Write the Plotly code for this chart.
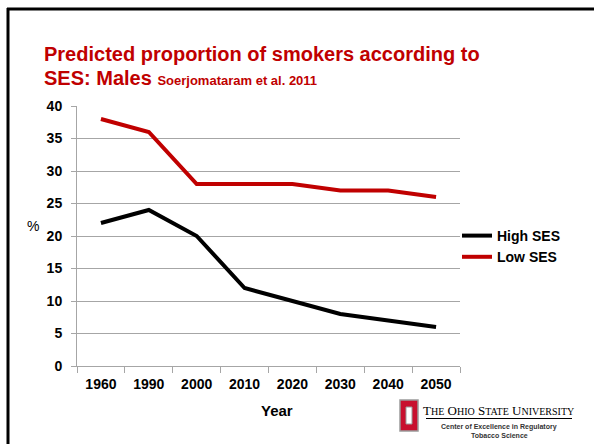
import plotly.graph_objects as go

# Smoking prevalence among males by socioeconomic status (Soerjomataram et al. 2011)
years = ["1960", "1990", "2000", "2010", "2020", "2030", "2040", "2050"]
high_ses = [22, 24, 20, 12, 10, 8, 7, 6]
low_ses = [38, 36, 28, 28, 28, 27, 27, 26]
y_ticks = [0, 5, 10, 15, 20, 25, 30, 35, 40]

W, H = 594, 444
L, R, T, B = 77, 134, 106, 78
PW, PH = W - L - R, H - T - B


def px(x):
    return (x - L) / PW


def py(y):
    return (H - B - y) / PH


RED = "#c00000"
GRID = "#a6a6a6"

fig = go.Figure()
fig.add_trace(go.Scatter(x=years, y=high_ses, name="High SES", mode="lines",
                         line=dict(color="black", width=4)))
fig.add_trace(go.Scatter(x=years, y=low_ses, name="Low SES", mode="lines",
                         line=dict(color=RED, width=4)))

fig.update_layout(
    width=W, height=H,
    margin=dict(l=L, r=R, t=T, b=B),
    paper_bgcolor="white", plot_bgcolor="white",
    font=dict(family="Liberation Sans, Arial, sans-serif", color="black"),
    showlegend=True,
    legend=dict(x=px(457), y=py(220), xanchor="left", yanchor="top",
                font=dict(size=14, weight="bold"), tracegroupgap=0,
                itemwidth=30, bgcolor="rgba(0,0,0,0)"),
)

fig.update_xaxes(type="category", range=[-0.5, 7.5], tickson="boundaries",
                 ticks="outside", ticklen=6, tickcolor=GRID, showline=True,
                 linecolor=GRID, linewidth=1, showgrid=False,
                 ticklabelstandoff=5,
                 tickfont=dict(size=14, weight="bold"))
fig.update_yaxes(range=[0, 40], tickvals=y_ticks, ticks="outside", ticklen=5,
                 tickcolor=GRID, showline=True, linecolor=GRID, linewidth=1,
                 showgrid=True, gridcolor=GRID, gridwidth=1, zeroline=False,
                 ticklabelstandoff=6, tickfont=dict(size=14, weight="bold"))

annotations = [
    dict(x=px(42), y=py(54), xanchor="left", yanchor="middle",
         text="<b>Predicted proportion of smokers according to</b>",
         font=dict(size=20, color=RED)),
    dict(x=px(42), y=py(78), xanchor="left", yanchor="middle",
         text="<b>SES: Males</b> <b><span style='font-size:13px'>Soerjomataram et al. 2011</span></b>",
         font=dict(size=20, color=RED)),
    dict(x=px(33), y=py(226), xanchor="center", yanchor="middle",
         text="%", font=dict(size=14)),
    dict(x=px(277), y=py(410), xanchor="center", yanchor="middle",
         text="<b>Year</b>", font=dict(size=15)),
    dict(x=px(498), y=py(410), xanchor="center", yanchor="middle",
         text=("T<span style='font-size:10px'>HE</span> O<span style='font-size:10px'>HIO</span> "
               "S<span style='font-size:10px'>TATE</span> U<span style='font-size:10px'>NIVERSITY</span>"),
         font=dict(size=13, family="Liberation Serif, Times New Roman, serif")),
    dict(x=px(499), y=py(427), xanchor="center", yanchor="middle",
         text="<b>Center of Excellence in Regulatory</b>",
         font=dict(size=7, color="#333333")),
    dict(x=px(499), y=py(435), xanchor="center", yanchor="middle",
         text="<b>Tobacco Science</b>",
         font=dict(size=7, color="#333333")),
]
for a in annotations:
    a.update(xref="paper", yref="paper", showarrow=False)
fig.update_layout(annotations=annotations)

shapes = [
    # slide frame
    dict(type="line", x0=px(8), x1=px(8), y0=py(8), y1=py(H + 5),
         line=dict(color="black", width=3)),
    dict(type="line", x0=px(7), x1=px(W + 5), y0=py(9), y1=py(9),
         line=dict(color="black", width=3)),
    # rule under the university name
    dict(type="line", x0=px(426), x1=px(572), y0=py(418.5), y1=py(418.5),
         line=dict(color="black", width=1)),
    # block O
    dict(type="rect", x0=px(400), x1=px(418), y0=py(400), y1=py(431),
         fillcolor="#c8102e", line=dict(color="#9a9a9a", width=1.5)),
    dict(type="rect", x0=px(406), x1=px(412), y0=py(407), y1=py(424),
         fillcolor="white", line=dict(color="#9a9a9a", width=1)),
]
for s in shapes:
    s.update(xref="paper", yref="paper", layer="above")
fig.update_layout(shapes=shapes)

fig.write_html("out.html")
